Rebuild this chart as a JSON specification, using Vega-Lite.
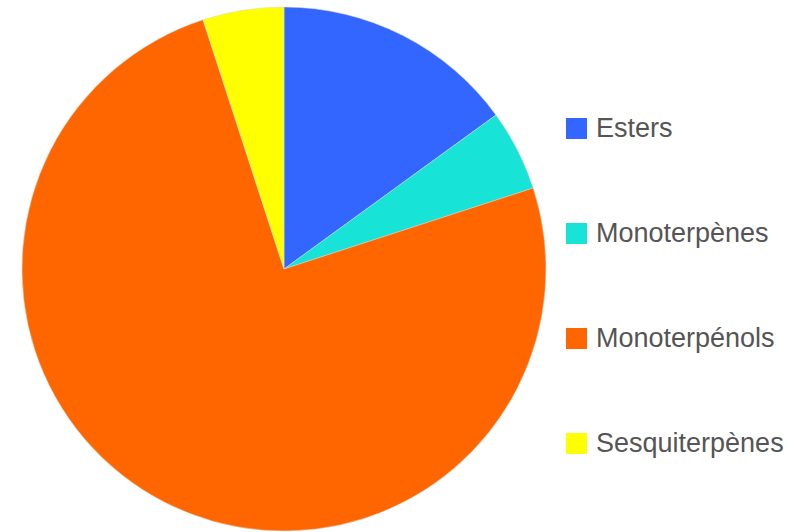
{
  "$schema": "https://vega.github.io/schema/vega-lite/v6.json",
  "width": 568,
  "height": 538,
  "autosize": {"type": "none"},
  "padding": {"left": 0, "top": 0, "right": 233, "bottom": 0},
  "background": "#ffffff",
  "data": {
    "values": [
      {"category": "Esters", "value": 15, "rank": 1},
      {"category": "Monoterpènes", "value": 5, "rank": 2},
      {"category": "Monoterpénols", "value": 75, "rank": 3},
      {"category": "Sesquiterpènes", "value": 5, "rank": 4}
    ]
  },
  "mark": {"type": "arc", "radius": 262, "stroke": "#d8d8d8", "strokeWidth": 0.5},
  "encoding": {
    "theta": {"field": "value", "type": "quantitative", "stack": true},
    "order": {"field": "rank", "type": "quantitative"},
    "color": {
      "field": "category",
      "type": "nominal",
      "scale": {
        "domain": ["Esters", "Monoterpènes", "Monoterpénols", "Sesquiterpènes"],
        "range": ["#3366FF", "#17E3D6", "#FF6600", "#FFFF00"]
      },
      "legend": {
        "title": null,
        "orient": "none",
        "legendX": 563,
        "legendY": 115,
        "symbolType": "square",
        "symbolSize": 441,
        "symbolStrokeWidth": 0,
        "labelFont": "Liberation Sans",
        "labelFontSize": 27,
        "labelColor": "#555555",
        "labelOffset": 6,
        "labelLimit": 0,
        "rowPadding": 77
      }
    }
  }
}
